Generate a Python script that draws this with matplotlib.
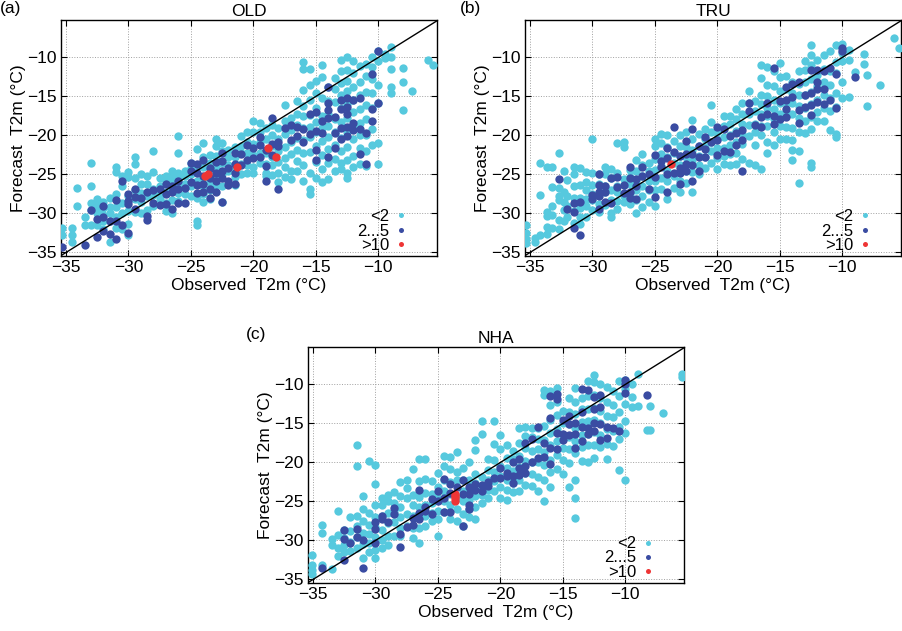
import matplotlib
matplotlib.use('Agg')
import matplotlib.pyplot as plt
from matplotlib.lines import Line2D

plt.rcParams['font.family'] = ['Liberation Sans', 'DejaVu Sans']

# each entry: (observed T2m, [forecast T2m values at that observed value])
old_low = [
	(-35.3, [-31.8, -32.8]), (-34.5, [-31.8, -32.8, -33.7]), (-34.1, [-26.7, -29.1]),
	(-33.5, [-30.4, -31.5]), (-33.0, [-23.5, -26.5, -28.6, -29.5, -31.5]),
	(-32.5, [-28.2, -29.0, -30.0, -31.5]), (-32.0, [-28.5, -29.3, -30.2, -31.0, -32.0]),
	(-31.5, [-28.0, -29.2, -30.0, -31.0, -33.7]), (-31.0, [-24.0, -24.7, -27.5, -29.2, -30.4, -31.8]),
	(-30.5, [-25.2, -26.5, -28.6, -30.0, -32.0]), (-30.0, [-24.7, -25.3, -27.8, -29.7, -31.4, -32.7]),
	(-29.5, [-22.8, -23.7, -25.5, -27.0, -28.2, -29.8]), (-29.0, [-25.0, -26.2, -27.4, -28.5, -29.9]),
	(-28.5, [-25.2, -26.2, -27.8, -29.5]), (-28.0, [-22.0, -24.7, -26.8, -27.6, -29.0]),
	(-27.5, [-25.5, -26.5, -27.4, -28.2]), (-27.0, [-25.2, -26.0, -27.2, -28.6, -29.7]),
	(-26.5, [-24.5, -25.3, -26.0, -27.0, -28.3, -30.0]),
	(-26.0, [-20.1, -22.2, -24.8, -25.5, -26.5, -27.4, -28.4]),
	(-25.5, [-24.5, -25.2, -26.2, -27.5]), (-25.0, [-23.5, -24.2, -25.0, -26.5, -27.8]),
	(-24.5, [-21.7, -24.1, -25.8, -28.0, -31.0, -31.5]),
	(-24.0, [-21.0, -22.8, -24.0, -25.5, -26.5, -27.5, -28.5]),
	(-23.5, [-22.5, -23.5, -24.5, -26.0, -27.0, -28.2]),
	(-23.0, [-20.4, -21.4, -22.6, -24.0, -25.2, -26.4]),
	(-22.5, [-21.0, -22.0, -23.5, -25.0, -26.5, -28.5]), (-22.0, [-21.8, -22.8, -23.8, -24.6]),
	(-21.5, [-21.5, -22.8, -24.1, -25.3, -26.3]), (-21.0, [-20.1, -21.3, -22.2, -23.7, -25.0]),
	(-20.5, [-19.5, -20.8, -22.3, -23.8, -24.8]), (-20.0, [-18.1, -19.6, -21.1, -22.5, -24.0, -24.8]),
	(-19.5, [-18.4, -19.5, -20.9, -22.3, -23.5]), (-19.0, [-19.0, -20.4, -22.2, -23.6, -24.8, -25.2]),
	(-18.5, [-18.7, -19.9, -21.3, -22.8, -23.8, -25.1]),
	(-18.0, [-19.0, -20.4, -22.0, -23.4, -24.8, -26.0]),
	(-17.5, [-16.1, -18.1, -19.8, -21.5, -22.9, -24.1, -25.3]),
	(-17.0, [-17.8, -19.3, -20.8, -22.4, -24.6, -25.6]),
	(-16.5, [-15.6, -17.2, -18.7, -20.3, -21.8, -23.3, -24.5]),
	(-16.0, [-10.6, -11.5, -14.2, -16.2, -17.5, -19.1, -20.6, -22.3, -23.8, -25.9]),
	(-15.5, [-11.5, -13.5, -15.5, -17.4, -18.9, -20.2, -22.1, -24.8, -26.9, -27.5]),
	(-15.0, [-13.0, -14.5, -16.5, -18.3, -19.6, -21.3, -23.4, -25.4]),
	(-14.5, [-11.0, -12.5, -15.2, -17.5, -19.0, -20.7, -22.5, -24.3, -26.0]),
	(-14.0, [-13.8, -15.6, -17.3, -18.8, -20.2, -21.7, -23.5, -25.6]),
	(-13.5, [-12.6, -14.1, -15.7, -17.9, -19.5, -21.2, -23.0, -24.5]),
	(-13.0, [-10.3, -11.8, -13.3, -14.8, -16.5, -18.3, -20.3, -22.0, -23.5, -24.3]),
	(-12.5, [-9.9, -11.6, -13.0, -14.3, -16.0, -17.8, -19.6, -21.5, -23.2, -24.8, -25.5]),
	(-12.0, [-10.5, -12.0, -13.8, -15.5, -17.0, -18.8, -20.5, -22.6, -24.1]),
	(-11.5, [-11.1, -13.2, -14.8, -16.6, -18.4, -20.0, -21.6, -23.6]),
	(-11.0, [-10.8, -12.4, -14.4, -16.1, -17.9, -20.0, -22.0, -23.9]),
	(-10.5, [-10.0, -11.2, -12.8, -14.5, -16.5, -19.2, -21.2]),
	(-10.0, [-9.2, -10.5, -13.5, -15.8, -21.0, -23.7]), (-9.5, [-9.5, -10.1]),
	(-9.0, [-8.6, -10.0, -11.5, -13.8, -14.5]), (-8.0, [-11.4, -13.1, -16.7]),
	(-7.3, [-14.3]), (-6.0, [-10.3]), (-5.6, [-11.0]),
]
old_mid = [
	(-35.3, [-34.3]), (-33.5, [-34.0]), (-33.0, [-29.5]), (-32.5, [-33.0, -30.7]),
	(-32.0, [-29.0, -30.5, -32.3]), (-31.5, [-31.0, -32.6]), (-31.0, [-30.9, -33.3, -28.3]),
	(-30.5, [-25.8, -31.5]), (-30.0, [-27.5, -28.4, -32.5, -28.8]), (-29.5, [-26.8, -27.9, -29.4]),
	(-29.0, [-28.0]), (-28.5, [-27.2, -30.3, -30.8]), (-28.0, [-27.0, -28.6]),
	(-27.5, [-28.9, -26.9]), (-27.0, [-26.2, -28.8, -27.5]), (-26.5, [-26.5, -27.3, -29.4]),
	(-26.0, [-25.8, -26.8, -28.7]), (-25.5, [-26.7, -28.6]), (-25.0, [-23.5, -24.5, -26.0]),
	(-24.5, [-23.7, -24.8, -26.4, -27.4]), (-24.0, [-23.1, -25.2, -26.2, -27.3]),
	(-23.5, [-24.2, -25.5, -26.8, -28.0]), (-23.0, [-23.4, -24.8, -25.8, -27.3]),
	(-22.5, [-22.3, -23.3, -24.6, -25.4, -28.5]), (-22.0, [-24.2, -25.8, -26.4]),
	(-21.5, [-22.3, -23.6, -24.8, -26.2]), (-21.0, [-22.4, -23.8]), (-20.5, [-21.2, -23.2]),
	(-20.0, [-21.6, -22.9]), (-19.5, [-20.2, -21.2, -22.7]), (-19.0, [-21.8, -25.8, -23.9]),
	(-18.5, [-17.7, -21.1, -22.5]), (-18.0, [-20.8, -26.8, -21.3]), (-17.5, [-19.1]),
	(-17.0, [-18.7, -20.6]), (-16.5, [-18.9, -20.1]), (-16.0, [-19.2, -20.9]),
	(-15.5, [-17.3, -19.8]), (-15.0, [-17.0, -19.4, -21.9, -23.1]), (-14.5, [-18.2, -19.7]),
	(-14.0, [-13.8, -15.9, -16.7, -17.7, -22.8]), (-13.5, [-17.6, -19.7, -21.6]),
	(-13.0, [-15.4, -16.6, -19.0, -20.5]), (-12.5, [-15.2, -16.3, -17.3, -18.9, -20.1]),
	(-12.0, [-15.5, -18.4, -19.3]), (-11.5, [-15.2, -19.2, -22.4]), (-11.0, [-19.7, -23.7]),
	(-10.5, [-12.1, -16.6, -18.1]), (-10.0, [-9.2, -15.8]),
]
old_high = [(-23.9, [-25.2]), (-23.6, [-24.9]), (-21.3, [-24.0]), (-18.8, [-21.6]), (-18.2, [-22.8])]

tru_low = [
	(-35.3, [-31.5, -32.5, -33.3, -33.8]), (-34.6, [-33.2, -33.6]), (-34.2, [-23.5, -27.6, -32.8]),
	(-33.6, [-24.1, -29.8, -30.3, -31.7, -32.6]), (-33.2, [-24.0, -26.6, -29.0, -30.2, -31.8]),
	(-32.7, [-22.3, -26.7, -27.7, -28.3, -30.8, -32.0]), (-32.3, [-24.5, -27.2, -28.5, -29.6, -31.0]),
	(-32.0, [-25.7, -27.8, -29.0, -30.4]), (-31.5, [-24.0, -25.0, -26.5, -28.0, -29.7, -31.2]),
	(-31.0, [-24.2, -26.3, -28.0, -29.3, -30.5, -31.3]),
	(-30.5, [-24.7, -26.0, -27.0, -28.2, -29.0, -30.5]),
	(-30.0, [-20.4, -24.8, -26.3, -27.5, -28.3, -29.5]),
	(-29.5, [-24.9, -26.2, -27.5, -28.8, -29.8]), (-29.0, [-24.0, -25.0, -26.5, -27.2, -28.9]),
	(-28.5, [-24.3, -25.4, -27.0, -28.3, -30.0, -30.5]),
	(-28.0, [-21.0, -24.8, -26.5, -27.3, -28.4, -29.4]),
	(-27.5, [-20.8, -21.5, -25.6, -26.4, -27.8, -28.5]),
	(-27.0, [-24.4, -25.3, -26.2, -27.6, -28.8]),
	(-26.5, [-23.2, -24.6, -25.7, -27.0, -28.3, -30.0]),
	(-26.0, [-22.4, -23.8, -25.2, -26.5, -27.8, -29.2]),
	(-25.5, [-23.5, -24.5, -25.8, -27.0, -28.5]),
	(-25.0, [-20.5, -21.4, -23.0, -24.4, -25.8, -27.0, -29.0]),
	(-24.5, [-19.8, -21.0, -22.4, -23.9, -25.5, -26.8]),
	(-24.0, [-20.0, -21.5, -22.8, -24.5, -25.8, -28.2]),
	(-23.5, [-20.7, -22.2, -23.5, -25.2, -26.7]),
	(-23.0, [-20.0, -21.3, -22.6, -23.8, -25.8, -27.2]),
	(-22.5, [-19.6, -21.5, -22.8, -24.5, -26.1]),
	(-22.0, [-18.0, -20.4, -21.8, -23.2, -24.7, -27.3]),
	(-21.5, [-19.8, -21.4, -22.6, -23.8, -25.0]), (-21.0, [-19.2, -20.5, -21.5, -22.8, -24.2]),
	(-20.5, [-16.1, -18.3, -19.5, -20.8, -22.0, -23.5]),
	(-20.0, [-19.5, -20.5, -21.6, -22.9, -24.3]),
	(-19.5, [-17.5, -18.8, -20.2, -21.6, -22.6, -23.7]),
	(-19.0, [-17.5, -18.5, -19.9, -21.2, -22.4, -23.8]),
	(-18.5, [-16.6, -17.9, -19.4, -20.8, -22.2, -23.6]),
	(-18.0, [-15.8, -17.2, -18.5, -19.8, -21.1, -23.0]),
	(-17.5, [-14.3, -15.9, -17.3, -18.7, -20.1, -23.5]),
	(-17.0, [-15.6, -16.9, -18.5, -19.6, -21.2, -23.8]),
	(-16.5, [-11.0, -12.6, -14.8, -16.0, -17.3, -18.8, -20.0, -24.3]),
	(-16.0, [-11.2, -13.5, -15.0, -16.5, -17.5, -18.8, -20.8, -22.3]),
	(-15.5, [-11.8, -13.7, -15.4, -16.6, -17.9, -19.5, -21.2]),
	(-15.0, [-10.7, -12.5, -14.3, -15.8, -17.3, -18.8, -20.4]),
	(-14.5, [-12.4, -14.1, -15.9, -17.4, -18.9, -20.5]),
	(-14.0, [-13.1, -14.5, -15.9, -17.3, -19.0, -20.6, -21.9, -23.2]),
	(-13.5, [-11.8, -13.4, -14.8, -16.2, -17.8, -19.5, -22.0, -26.1]),
	(-13.0, [-10.5, -11.6, -13.2, -14.8, -16.5, -18.1, -19.7]),
	(-12.5, [-8.4, -9.7, -11.0, -12.8, -14.4, -16.0, -17.6, -19.2, -23.5, -24.0]),
	(-12.0, [-10.3, -12.2, -13.7, -15.4, -17.0, -18.2]),
	(-11.5, [-9.7, -11.5, -13.1, -14.8, -16.5, -18.1]),
	(-11.0, [-9.2, -11.8, -13.5, -15.2, -16.9, -19.3]),
	(-10.5, [-8.4, -10.6, -12.0, -14.6, -16.3, -19.8, -20.2]),
	(-10.0, [-8.3, -9.4, -10.5, -13.1, -15.2]), (-9.5, [-9.0, -10.3, -15.1]), (-9.0, [-11.9]),
	(-8.3, [-9.5, -10.9]), (-8.0, [-12.3, -16.2]), (-7.0, [-13.5]), (-5.9, [-7.5]), (-5.5, [-8.8]),
]
tru_mid = [
	(-32.7, [-25.6]), (-32.0, [-29.4]), (-31.5, [-28.6, -29.8, -31.9]), (-31.0, [-32.8, -28.5]),
	(-30.0, [-27.6, -28.1]), (-29.5, [-25.0, -26.3, -27.2, -27.8, -29.4]),
	(-29.0, [-26.5, -27.2, -28.5]), (-28.5, [-25.5, -28.7]), (-28.0, [-25.3, -26.6]),
	(-27.5, [-26.3, -27.4]), (-27.0, [-24.0, -25.5, -27.2, -28.0]), (-26.5, [-25.6, -26.5, -28.2]),
	(-26.0, [-24.1, -25.2]), (-25.5, [-25.0, -26.8]), (-25.0, [-22.5, -25.3, -27.9]),
	(-24.5, [-23.3, -24.1]), (-24.0, [-21.6, -22.9, -25.0, -27.3]), (-23.5, [-18.9, -22.1, -24.8]),
	(-23.0, [-22.6, -24.2, -24.8, -26.2]), (-22.5, [-20.7, -22.4, -23.6, -24.5]),
	(-22.0, [-19.2, -22.4, -23.8, -25.8]), (-21.5, [-21.3, -22.8, -24.6]),
	(-21.0, [-20.2, -21.7, -22.8]), (-20.5, [-20.9]), (-20.0, [-18.9, -20.6, -22.5]),
	(-19.5, [-19.2, -22.0]), (-19.0, [-20.1, -22.1]), (-18.5, [-21.2, -19.7]),
	(-18.0, [-20.6, -24.6, -19.3]), (-17.5, [-15.8, -16.9]), (-17.0, [-18.6]),
	(-16.5, [-17.6, -18.9]), (-16.0, [-15.9, -17.2]), (-15.5, [-11.4, -17.5, -18.5]),
	(-15.0, [-15.6, -17.9]), (-14.5, [-13.8, -15.4, -16.6, -17.6]), (-14.0, [-13.4, -15.1]),
	(-13.5, [-13.2, -16.7, -18.4]), (-13.0, [-14.8, -16.3]), (-12.5, [-11.6, -14.6, -16.1, -17.4]),
	(-12.0, [-11.6, -13.1, -14.1, -15.7]), (-11.5, [-11.7, -14.1, -16.0]), (-11.0, [-11.4, -15.5]),
	(-10.5, [-16.5, -12.1]), (-10.0, [-8.8, -9.2]), (-9.0, [-12.5]),
]
tru_high = [(-23.7, [-23.7])]

nha_low = [
	(-35.1, [-31.8, -33.2, -33.8, -34.3]), (-34.3, [-28.0, -29.1, -33.1]), (-33.5, [-29.8, -30.6, -33.6]),
	(-33.0, [-26.2, -29.3, -31.0, -32.0]), (-32.5, [-28.6, -29.7, -30.6, -31.5]),
	(-32.0, [-27.0, -28.8, -30.2, -31.3]), (-31.5, [-17.7, -20.4, -26.8, -28.2, -29.6, -31.0]),
	(-31.0, [-24.3, -26.0, -27.5, -29.0, -30.5, -32.3]),
	(-30.5, [-19.8, -26.5, -28.0, -29.2, -30.3, -31.5]),
	(-30.0, [-20.3, -22.8, -25.5, -27.0, -28.3, -29.5, -31.2, -32.2]),
	(-29.5, [-24.5, -25.5, -26.8, -28.6, -30.0, -31.0]),
	(-29.0, [-24.2, -25.0, -26.5, -27.7, -29.4, -30.6]),
	(-28.5, [-23.8, -25.2, -26.4, -27.6, -29.4]),
	(-28.0, [-22.5, -24.3, -25.7, -27.0, -28.4, -29.4]),
	(-27.5, [-22.2, -23.3, -24.5, -26.6, -28.1]),
	(-27.0, [-20.8, -24.2, -25.5, -26.8, -28.4, -29.7]),
	(-26.5, [-19.5, -22.4, -24.4, -25.7, -26.9, -28.4, -30.3]),
	(-26.0, [-19.5, -22.1, -23.9, -25.5, -26.8, -28.2]),
	(-25.5, [-22.4, -24.0, -25.2, -26.5, -27.5]),
	(-25.0, [-21.4, -23.2, -24.6, -26.2, -27.3, -29.4]),
	(-24.5, [-19.2, -20.4, -22.2, -23.6, -25.0, -26.4]),
	(-24.0, [-19.3, -20.8, -22.5, -24.0, -25.4, -27.2]),
	(-23.5, [-18.6, -21.2, -22.3, -24.5, -26.0, -27.5]),
	(-23.0, [-20.7, -22.3, -23.6, -25.0, -26.6, -28.2]),
	(-22.5, [-20.0, -22.2, -23.6, -24.8, -26.0, -27.0]),
	(-22.0, [-17.1, -18.4, -21.5, -22.6, -24.3, -25.7, -27.2]),
	(-21.5, [-14.7, -16.4, -21.8, -23.1, -24.2, -25.2]),
	(-21.0, [-19.5, -21.0, -22.3, -23.5, -24.5]),
	(-20.5, [-14.7, -17.6, -19.7, -21.2, -22.4, -23.7]),
	(-20.0, [-16.5, -18.3, -20.5, -21.7, -23.1, -24.5]),
	(-19.5, [-17.8, -19.4, -20.7, -22.3, -23.5, -24.8]),
	(-19.0, [-18.5, -19.6, -21.1, -22.6, -23.8]),
	(-18.5, [-15.6, -17.5, -19.2, -20.6, -22.3, -23.6]),
	(-18.0, [-15.5, -16.6, -18.2, -19.8, -21.4, -22.9]),
	(-17.5, [-15.6, -16.8, -18.5, -20.0, -21.5, -23.0]),
	(-17.0, [-15.6, -17.0, -18.3, -20.0, -21.8, -23.6]),
	(-16.5, [-10.7, -11.4, -15.3, -17.1, -18.7, -20.3, -22.2, -24.9]),
	(-16.0, [-10.9, -12.6, -14.5, -16.2, -17.8, -19.7, -21.2, -23.2]),
	(-15.5, [-10.4, -12.2, -13.9, -15.7, -17.3, -19.0, -20.8]),
	(-15.0, [-13.4, -15.0, -16.6, -18.1, -19.7, -21.5]),
	(-14.5, [-11.7, -13.5, -15.1, -16.8, -18.3, -20.1, -23.1]),
	(-14.0, [-10.4, -12.2, -13.8, -15.6, -17.2, -18.8, -22.2, -24.6, -27.1]),
	(-13.5, [-11.7, -13.2, -14.8, -16.5, -18.0, -19.8]),
	(-13.0, [-9.5, -11.5, -13.1, -14.7, -16.3, -17.8, -19.9]),
	(-12.5, [-8.8, -9.7, -11.3, -13.0, -14.6, -16.1, -17.7, -19.4]),
	(-12.0, [-10.0, -11.8, -13.4, -15.0, -16.5, -18.0]),
	(-11.5, [-10.3, -12.3, -14.1, -15.7, -17.6, -19.5]),
	(-11.0, [-10.8, -12.6, -14.2, -16.0, -17.9]),
	(-10.5, [-9.5, -11.5, -13.5, -15.5, -17.0, -21.0]),
	(-10.0, [-9.4, -10.6, -12.5, -14.7, -16.2, -22.2]),
	(-9.5, [-10.0, -11.6, -12.9]), (-9.0, [-8.7, -12.8]), (-8.3, [-15.9]),
	(-8.0, [-12.8, -15.9]), (-7.0, [-13.7]), (-5.5, [-8.7, -9.0]),
]
nha_mid = [
	(-34.3, [-33.5]), (-32.5, [-28.6, -29.8, -32.5]), (-32.0, [-30.3]), (-31.5, [-28.5, -29.5]),
	(-31.0, [-30.0, -33.5]), (-30.0, [-27.6, -28.5, -30.3]), (-29.5, [-26.8, -27.2]),
	(-29.0, [-27.6]), (-28.5, [-25.8, -26.6]), (-28.0, [-29.2, -30.8]), (-27.5, [-28.3]),
	(-27.0, [-27.1, -28.0]), (-26.5, [-23.5, -26.5, -27.3]), (-26.0, [-25.7, -26.2]),
	(-25.5, [-24.7, -26.6]), (-25.0, [-23.6, -25.0]), (-24.5, [-22.1, -24.5, -26.3]),
	(-24.0, [-22.8, -23.9, -26.4]), (-23.5, [-23.1]), (-23.0, [-22.3, -24.0, -28.2]),
	(-22.5, [-23.2, -24.1, -25.4, -26.0]), (-22.0, [-22.7, -23.5]), (-21.5, [-22.9, -23.6]),
	(-21.0, [-22.5, -23.0]), (-20.5, [-22.0]), (-20.0, [-20.7, -22.0]), (-19.5, [-21.3, -21.7]),
	(-19.0, [-20.0, -21.7, -22.6]), (-18.5, [-19.5, -21.6, -20.7]), (-18.0, [-17.5, -20.5, -21.4]),
	(-17.5, [-17.0, -20.0]), (-17.0, [-15.5, -19.4]), (-16.5, [-17.5, -19.3]),
	(-16.0, [-11.5, -14.3, -18.1, -20.2]), (-15.5, [-11.2, -11.9, -16.2, -18.3]),
	(-15.0, [-14.5, -16.3, -17.1]), (-14.5, [-14.1, -15.1, -16.5]), (-14.0, [-14.9, -16.4, -18.2]),
	(-13.5, [-10.6, -13.5, -15.5, -17.2]), (-13.0, [-10.7, -15.6, -16.4]),
	(-12.5, [-11.6, -13.2, -15.0, -16.0]), (-12.0, [-11.3, -12.9, -15.1, -17.1]),
	(-11.5, [-15.4, -16.9]), (-11.0, [-15.6]), (-10.5, [-16.0]), (-10.0, [-9.4, -9.9, -11.1]),
	(-8.3, [-11.4]),
]
nha_high = [(-23.6, [-24.0, -24.3, -24.6, -24.9])]

titles = ['OLD', 'TRU', 'NHA']
panel_tags = ['(a)', '(b)', '(c)']
class_labels = ['<2', '2...5', '>10']
class_colors = ['#56c9de', '#3a4ca2', '#ee3535']
ticks = [-35, -30, -25, -20, -15, -10]


def unpack(strips):
	xs, ys = [], []
	for x, col in strips:
		for y in col:
			xs.append(x)
			ys.append(y)
	return xs, ys


fs = 12.5
fig = plt.figure(figsize=(9.02, 6.31), dpi=100)
boxes = [
	[61/902, 1 - 256/631, 376/902, 236/631],
	[525/902, 1 - 256/631, 376/902, 236/631],
	[308/902, 1 - 583/631, 376/902, 236/631],
]
tag_pos = [(0.0, 1 - 8/631), (460/902, 1 - 8/631), (246/902, 1 - 335/631)]
panels = [
	(old_low, old_mid, old_high),
	(tru_low, tru_mid, tru_high),
	(nha_low, nha_mid, nha_high),
]

for k in range(3):
	ax = fig.add_axes(boxes[k])
	ax.grid(True, color='#a0a0a0', linestyle=':', linewidth=0.7)
	ax.set_axisbelow(True)
	for strips, c in zip(panels[k], class_colors):
		xs, ys = unpack(strips)
		ax.scatter(xs, ys, s=36, c=c, linewidths=0, zorder=3)
	ax.plot([-36, -5], [-36, -5], color='black', linewidth=1.0, zorder=4)
	ax.set_xlim(-35.4, -5.3)
	ax.set_ylim(-35.45, -5.2)
	ax.set_xticks(ticks)
	ax.set_yticks(ticks)
	ax.tick_params(direction='in', top=True, right=True, labelsize=fs, length=4, pad=3)
	ax.set_xlabel('Observed  T2m (°C)', fontsize=fs, labelpad=2)
	ax.set_ylabel('Forecast  T2m (°C)', fontsize=fs, labelpad=1)
	ax.set_title(titles[k], fontsize=fs, pad=3)
	for sp in ax.spines.values():
		sp.set_linewidth(1.0)
	handles = [Line2D([], [], marker='o', linestyle='none', markersize=3.6,
		markerfacecolor=c, markeredgewidth=0) for c in class_colors]
	ax.legend(handles, class_labels, loc='lower right', bbox_to_anchor=(0.93, 0.0),
		markerfirst=False, frameon=False, fontsize=12, labelspacing=-0.05,
		handlelength=0.8, handletextpad=0.3, borderaxespad=0.0, borderpad=0.2)
	fig.text(tag_pos[k][0], tag_pos[k][1], panel_tags[k], fontsize=fs, va='center', ha='left')

fig.savefig('out.png', dpi=100)
